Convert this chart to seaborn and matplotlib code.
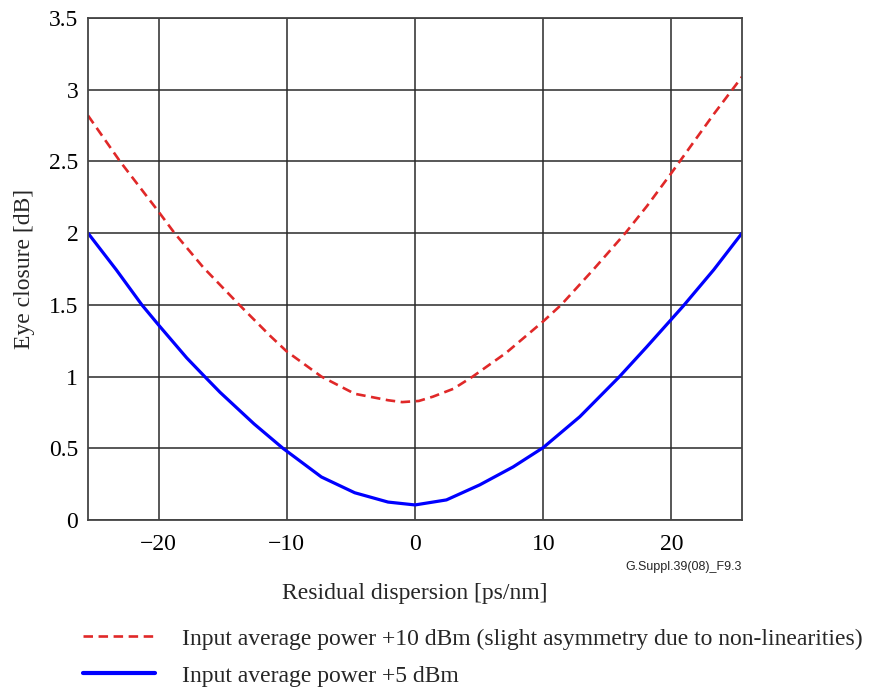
import matplotlib
matplotlib.use("Agg")
import matplotlib.pyplot as plt
import seaborn as sns

sns.set_theme(style="white")
plt.rcParams['font.family'] = ['Liberation Serif', 'DejaVu Serif']

# Data
red_x = [-25.5, -23.0, -20.0, -18.75, -16.5, -13.7, -11.25, -10.0, -7.3, -4.7, -2.1, -1.0,
         0.3, 1.4, 3.0, 4.5, 7.1, 10.0, 11.4, 13.9, 16.4, 18.1, 20.0, 23.3, 25.5]
red_y = [2.82, 2.50, 2.15, 2.00, 1.76, 1.50, 1.28, 1.175, 1.00, 0.88, 0.835, 0.822,
         0.83, 0.86, 0.915, 1.00, 1.165, 1.385, 1.50, 1.745, 2.00, 2.19, 2.42, 2.83, 3.09]
blue_x = [-25.5, -23.3, -21.3, -20.0, -17.8, -16.4, -15.2, -12.55, -10.3, -7.3, -4.7,
          -2.1, 0.0, 2.45, 5.05, 7.65, 10.0, 12.85, 15.95, 18.05, 20.0, 20.9, 23.3, 25.5]
blue_y = [2.00, 1.745, 1.50, 1.36, 1.13, 1.00, 0.89, 0.67, 0.50, 0.30, 0.19,
          0.125, 0.105, 0.14, 0.245, 0.37, 0.505, 0.72, 1.00, 1.205, 1.40, 1.49, 1.745, 2.00]

x_ticks = [-20, -10, 0, 10, 20]
x_tick_labels = ["\u221220", "\u221210", "0", "10", "20"]
y_ticks = [0, 0.5, 1, 1.5, 2, 2.5, 3, 3.5]
y_tick_labels = ["0", "0.5", "1", "1.5", "2", "2.5", "3", "3.5"]

red_label = "Input average power +10 dBm (slight asymmetry due to non-linearities)"
blue_label = "Input average power +5 dBm"

fig = plt.figure(figsize=(8.71, 6.89), dpi=100)
ax = fig.add_axes([88/871, 1-520/689, (742-88)/871, (520-18)/689])

sns.lineplot(x=red_x, y=red_y, ax=ax, color="#e02828", linewidth=1.9,
             sort=False, label=red_label)
sns.lineplot(x=blue_x, y=blue_y, ax=ax, color="#0000ff", linewidth=2.3,
             sort=False, label=blue_label)
ax.lines[0].set_dashes((3.6, 2.1))
for ln in ax.lines:
    ln.set_solid_joinstyle('round')
    ln.set_dash_joinstyle('round')

ax.set_xlim(-25.5, 25.5)
ax.set_ylim(0, 3.5)
ax.set_xticks(x_ticks)
ax.set_xticklabels(x_tick_labels)
ax.set_yticks(y_ticks)
ax.set_yticklabels(y_tick_labels)
ax.tick_params(axis='both', labelsize=17, length=0, colors='black')
ax.tick_params(axis='x', pad=10)
ax.tick_params(axis='y', pad=7)
ax.grid(True, color='#2a2a2a', linewidth=1.1)
ax.set_axisbelow(True)
for s in ax.spines.values():
    s.set_color('#444444')
    s.set_linewidth(1.3)

ax.set_xlabel("Residual dispersion [ps/nm]", fontsize=17, labelpad=20)
ax.set_ylabel("Eye closure [dB]", fontsize=17, labelpad=10)

fig.text(742/871, 1-567/689, "G.Suppl.39(08)_F9.3", fontsize=9.0,
         family=['Liberation Sans', 'DejaVu Sans'], ha='right', va='center')

handles, labels = ax.get_legend_handles_labels()
ax.get_legend().remove()
leg = fig.legend(handles, labels, loc='upper left', bbox_to_anchor=(83/871, 1-628/689),
                 frameon=False, fontsize=17, handlelength=3.05, handletextpad=1.15,
                 labelspacing=0.66, borderaxespad=0, borderpad=0)
leg.legend_handles[1].set_linewidth(3.0)

fig.savefig("out.png", dpi=100)
